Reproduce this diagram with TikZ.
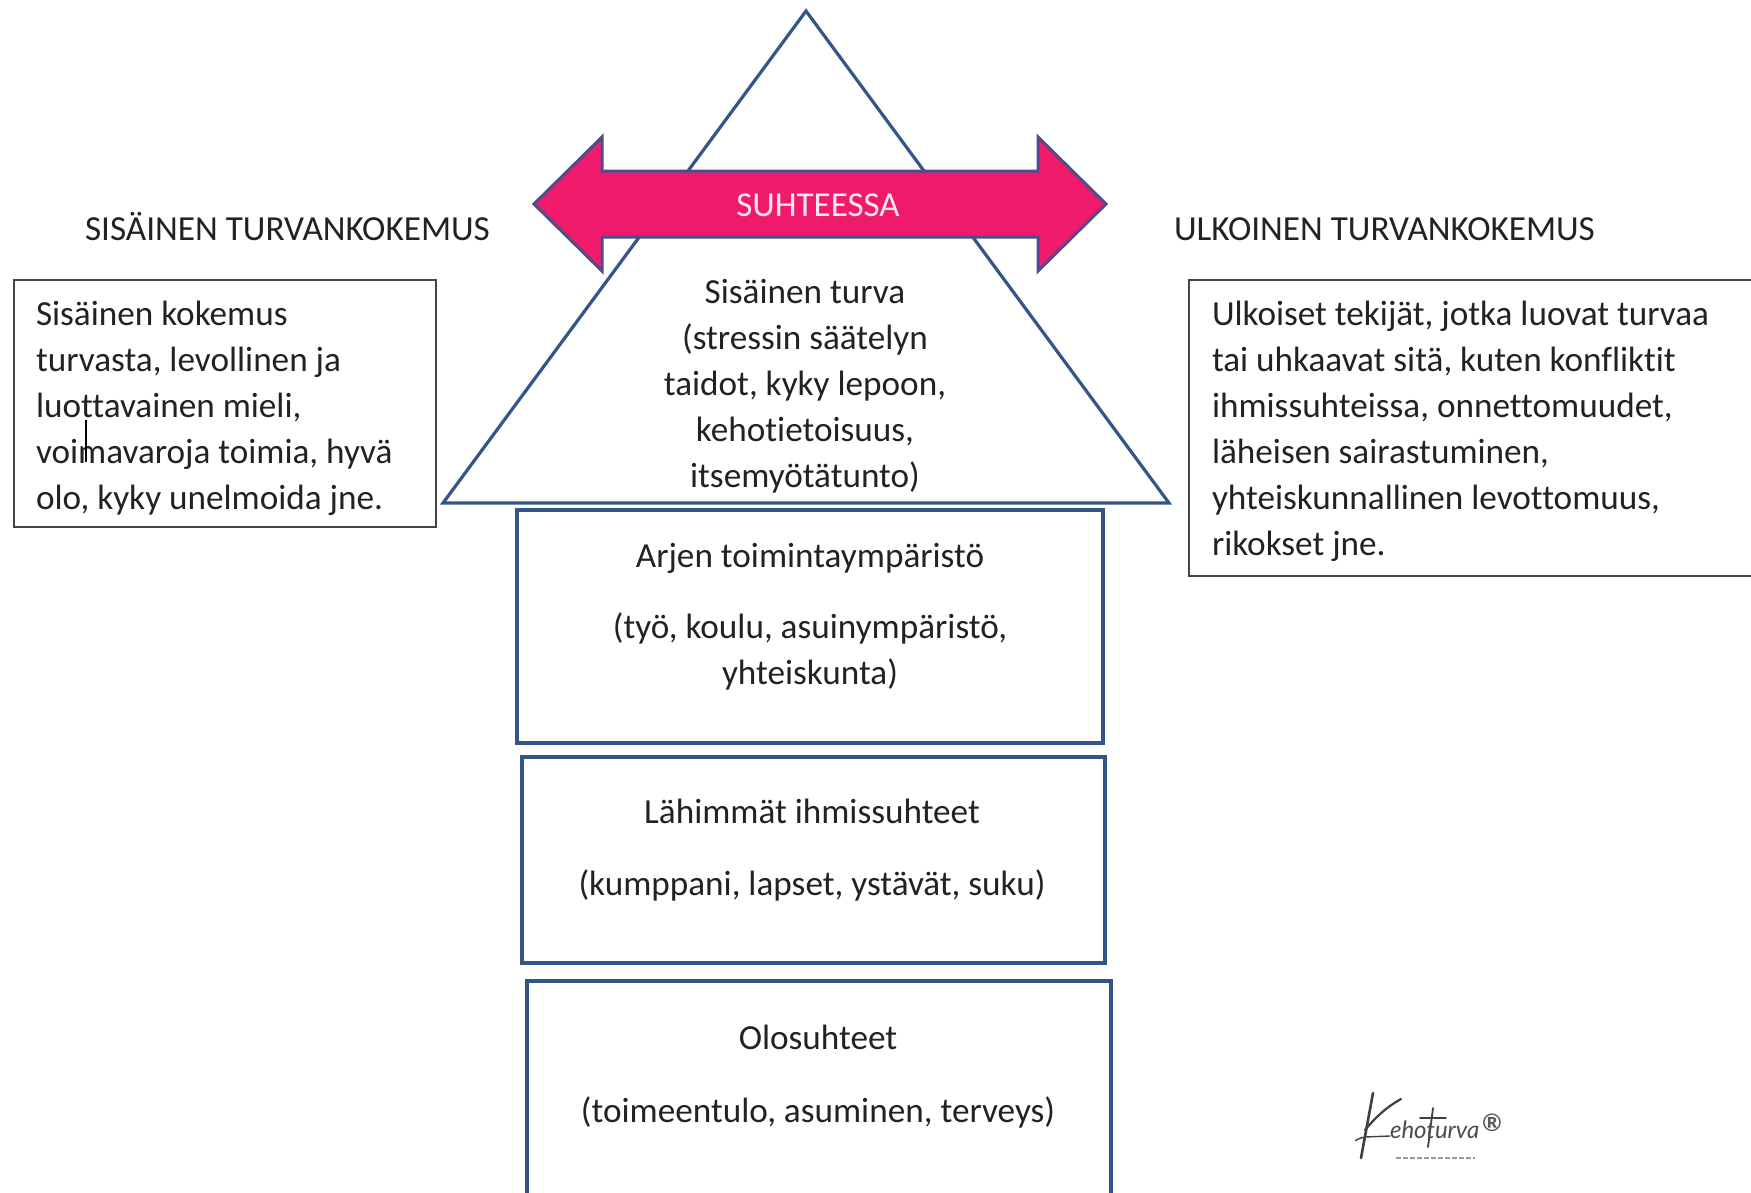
\documentclass[tikz,border=0pt]{standalone}
\usepackage{fontspec}
\setmainfont[Ligatures=NoCommon]{Carlito}
\newfontfamily\logofont{Lato}
\definecolor{framecol}{HTML}{335688}
\definecolor{pinkcol}{HTML}{F01A6C}
\definecolor{arrowedge}{HTML}{4F4C8C}
\definecolor{inkcol}{HTML}{222222}
\definecolor{thincol}{HTML}{444444}
\tikzset{
  x=1pt,y=-1pt,
  every node/.style={inner sep=0pt,outer sep=0pt,text=inkcol},
  body/.style={font=\fontsize{35.2}{46}\selectfont},
  mid/.style={body,align=center,anchor=base},
  leftcol/.style={body,align=left,anchor=north west},
  centercol/.style={body,align=center,anchor=north},
  bluebox/.style={draw=framecol,line width=3.2pt},
  thinbox/.style={draw=thincol,line width=2.2pt},
  logostroke/.style={draw=black!75,line cap=round,line join=round},
}
\begin{document}
\begin{tikzpicture}
\useasboundingbox[fill=white] (0,0) rectangle (1751,1192);
% triangle
\draw[framecol,line width=3.2pt,line join=miter,fill=white] (806,11) -- (1169,503) -- (443,503) -- cycle;
% double arrow
\draw[draw=arrowedge,line width=3pt,fill=pinkcol,line join=miter]
  (534,204) -- (602,137) -- (602,171) -- (1038,171) -- (1038,137) -- (1106,204) -- (1038,271) -- (1038,237) -- (602,237) -- (602,271) -- cycle;
\node[font=\fontsize{35}{40}\selectfont,text=pink!35!white,anchor=base] (suhteessa) at (818,216) {SUHTEESSA};
% headings
\node[body,anchor=base west] (headleft) at (85,240) {SISÄINEN TURVANKOKEMUS};
\node[body,anchor=base west] (headright) at (1174,240) {ULKOINEN TURVANKOKEMUS};
% side boxes
\path[thinbox,fill=white] (14,280) rectangle (436,527);
\path[thinbox,fill=white] (1189,280) rectangle (1770,576);
\node[leftcol] (lefttext) at (36,301) {Sisäinen kokemus\\turvasta, levollinen ja\\luottavainen mieli,\\voimavaroja toimia, hyvä\\olo, kyky unelmoida jne.};
\node[leftcol] (righttext) at (1212,301) {Ulkoiset tekijät, jotka luovat turvaa\\tai uhkaavat sitä, kuten konfliktit\\ihmissuhteissa, onnettomuudet,\\läheisen sairastuminen,\\yhteiskunnallinen levottomuus,\\rikokset jne.};
\draw[black,line width=1.2pt] (86,420) -- (86,462);
% triangle text
\node[centercol] (tritext) at (805,279.5) {Sisäinen turva\\(stressin säätelyn\\taidot, kyky lepoon,\\kehotietoisuus,\\itsemyötätunto)};
% stacked boxes
\path[bluebox] (517,510) rectangle (1103,743);
\path[bluebox] (522,757) rectangle (1105,963);
\path[bluebox] (527,981) rectangle (1111,1210);
\node[mid] (a1) at (810,567) {Arjen toimintaympäristö};
\node[centercol] (a2) at (810,613) {(työ, koulu, asuinympäristö,\\yhteiskunta)};
\node[mid] (b1) at (812,823) {Lähimmät ihmissuhteet};
\node[mid] (b2) at (812,895) {(kumppani, lapset, ystävät, suku)};
\node[mid] (c1) at (818,1049) {Olosuhteet};
\node[mid] (c2) at (818,1122) {(toimeentulo, asuminen, terveys)};
% logo
\draw[logostroke,line width=2.6pt] (1373,1093) -- (1361,1158);
\draw[logostroke,line width=2.2pt] (1401,1099) .. controls (1385,1108) and (1375,1118) .. (1365,1130);
\draw[logostroke,line width=1.4pt] (1390,1136) -- (1365,1137) .. controls (1358,1138) and (1354,1142) .. (1356,1140);
\draw[logostroke,line width=1.8pt] (1433,1108) -- (1428,1147);
\draw[logostroke,line width=1.4pt] (1420,1118) -- (1446,1118);
\node[font=\logofont\itshape\fontsize{24}{26}\selectfont,text=black!70,anchor=base west] (logoname) at (1390,1138) {ehoturva};
\node[font=\logofont\bfseries\fontsize{24}{26}\selectfont,text=black!65] (logomark) at (1492,1123) {®};
\draw[black!40,line width=1.6pt,dash pattern=on 5pt off 2pt] (1396,1158) -- (1475,1158);
\end{tikzpicture}
\end{document}
